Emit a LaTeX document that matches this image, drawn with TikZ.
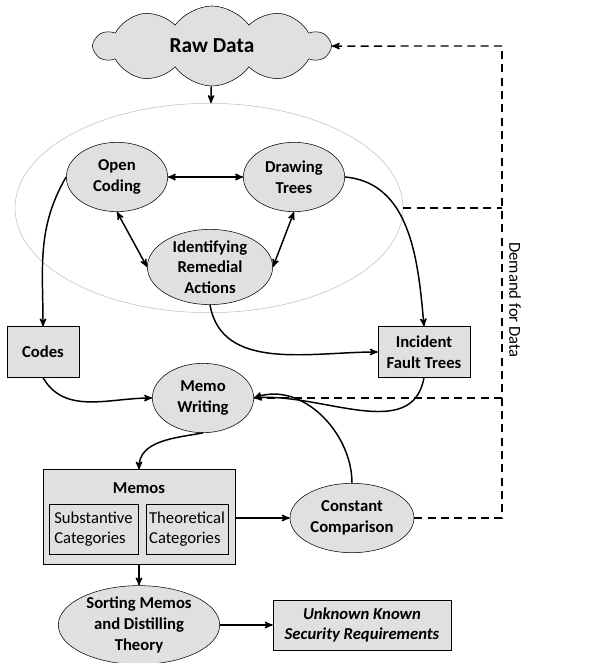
\documentclass[tikz,border=0pt]{standalone}
\usepackage{fontspec}
\setmainfont{Carlito}
\usepackage{tikz}
\usetikzlibrary{arrows,positioning,shapes.geometric,shapes.symbols}

\begin{document}
\begin{tikzpicture}[x=0.75pt, y=-0.75pt, line width=1.1pt, >=stealth',
    oval/.style={ellipse, draw, thin, fill=black!12, inner sep=0pt, align=center,
      font=\fontsize{12.5}{15.5}\selectfont\bfseries},
    box/.style={rectangle, draw, thin, fill=black!12, align=center,
      font=\fontsize{12.5}{15.5}\selectfont\bfseries},
    catbox/.style={rectangle, draw, thin, fill=black!12, align=left, inner sep=2pt,
      font=\fontsize{12.5}{15.5}\selectfont},
    demand/.style={line width=1.1pt, dash pattern=on 6pt off 4pt}]
    \useasboundingbox (0,0) rectangle (615,663);
    % Raw data cloud
    \node[cloud, cloud puffs=10, cloud puff arc=110, aspect=3.2, draw, thin, fill=black!12,
      minimum width=176pt, minimum height=60pt,
      font=\fontsize{16}{19}\selectfont\bfseries] (raw) at (212,46) {Raw Data};
    % Analysis group
    \node[ellipse, draw=gray!50, thin, minimum width=291pt, minimum height=157pt] (group) at (209,208) {};
    \node[oval, minimum width=76pt, minimum height=52pt] (open) at (117,177) {Open\\Coding};
    \node[oval, minimum width=76pt, minimum height=52pt] (trees) at (294,177) {Drawing\\Trees};
    \node[oval, minimum width=94pt, minimum height=56pt] (remedial) at (210,267) {Identifying\\Remedial\\Actions};
    % Outputs
    \node[box, minimum width=54pt, minimum height=38pt] (codes) at (43,352) {Codes};
    \node[box, minimum width=69pt, minimum height=38pt] (incident) at (424,352) {Incident\\Fault Trees};
    \node[oval, minimum width=76pt, minimum height=52pt] (memo) at (203,398) {Memo\\Writing};
    % Memos
    \node[box, minimum width=144pt, minimum height=71pt] (memos) at (139,517) {};
    \node[font=\fontsize{12.5}{15.5}\selectfont\bfseries] (memostitle) at (139,488) {Memos};
    \node[catbox, minimum width=67pt, minimum height=37.5pt] (subst) at (93.5,529) {Substantive\\Categories};
    \node[catbox, minimum width=61.5pt, minimum height=37.5pt] (theo) at (187,529) {Theoretical\\Categories};
    \node[oval, minimum width=93pt, minimum height=52pt] (cc) at (352,518) {Constant\\Comparison};
    \node[oval, minimum width=121pt, minimum height=54pt] (sorting) at (139,625) {Sorting Memos\\and Distilling\\Theory};
    \node[box, minimum width=133.5pt, minimum height=37.5pt,
      font=\fontsize{12.5}{15.5}\selectfont\bfseries\itshape] (unknown) at (362,625) {Unknown Known\\Security Requirements};
    \node[rotate=-90, font=\fontsize{12.5}{15.5}\selectfont] (demandlabel) at (515,300) {Demand for Data};

    % Arrows
    \draw[->] (raw) -- (group);
    \draw[<->] (open) -- (trees);
    \draw[<->] (open.south) -- (remedial.west);
    \draw[<->] (trees.south) -- (remedial.east);
    \draw[->] (open.west) to[out=-120, in=90] (codes.north);
    \draw[->] (trees.east) to[out=-5, in=95] (incident.north);
    \draw[->] (remedial.south) to[out=-80, in=180] (incident.west);
    \draw[->] (codes.south) to[out=-60, in=180] (memo.west);
    \draw[->] (incident.south) to[out=-100, in=5] (memo.east);
    \draw[->] (cc.north) to[out=90, in=20] (memo.east);
    \draw[->] (memo.south) to[out=190, in=90] (memos.north);
    \draw[->] (memos.east |- cc) -- (cc.west);
    \draw[->] (memos.south) -- (sorting.north);
    \draw[->] (sorting) -- (unknown);

    % Demand for data
    \coordinate (dtop) at (502,46);
    \coordinate (dbottom) at (502,518);
    \draw[demand] (cc.east) -- (dbottom) -- (dtop);
    \draw[demand,->] (dtop) -- (raw.east);
    \draw[demand] (group.east) -- (group.east -| dtop);
    \draw[demand] (memo.east) -- (memo.east -| dtop);
\end{tikzpicture}
\end{document}
